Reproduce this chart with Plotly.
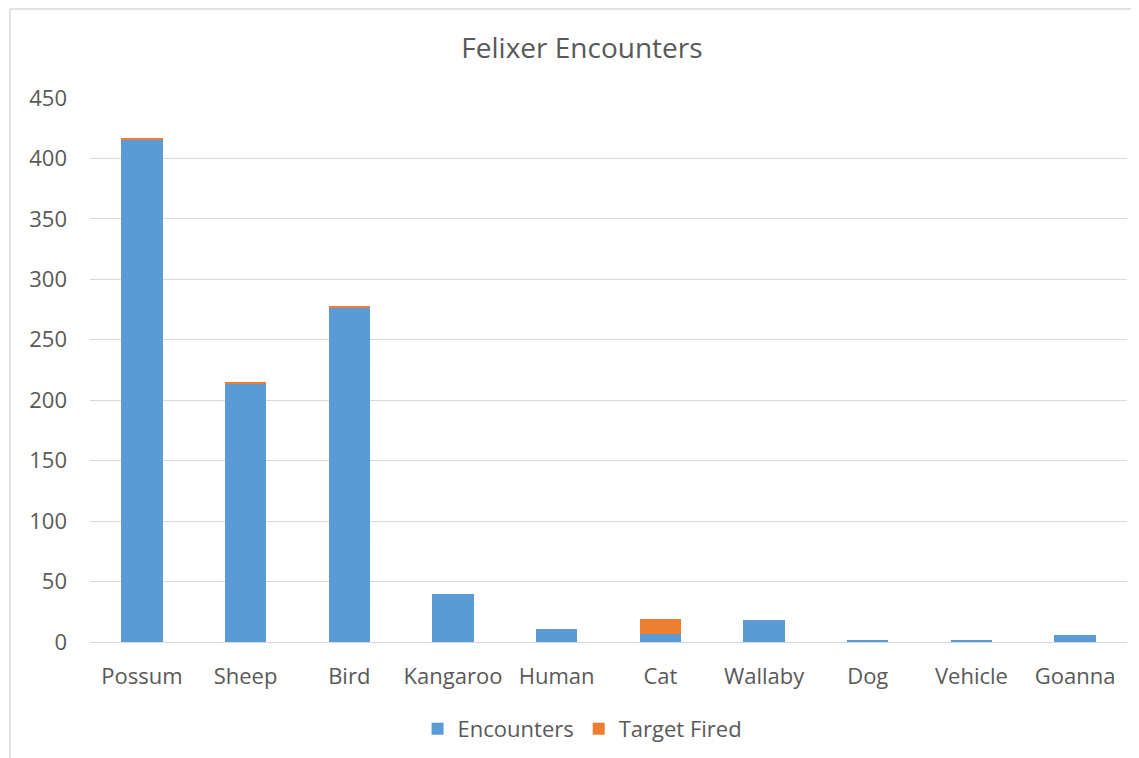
import plotly.graph_objects as go

categories = ["Possum", "Sheep", "Bird", "Kangaroo", "Human", "Cat", "Wallaby", "Dog", "Vehicle", "Goanna"]
encounters = [416, 214, 277, 40, 11, 7, 18, 2, 2, 6]
target_fired = [1, 1, 1, 0, 0, 12, 0, 0, 0, 0]
y_ticks = [0, 50, 100, 150, 200, 250, 300, 350, 400, 450]

FONT = "Open Sans, Lato, sans-serif"
TXT = "#595959"
GRID = "#d9d9d9"

fig = go.Figure()
fig.add_trace(go.Bar(x=categories, y=encounters, name="Encounters",
                     marker=dict(color="#5b9bd5", line=dict(width=0))))
fig.add_trace(go.Bar(x=categories, y=target_fired, name="Target Fired",
                     marker=dict(color="#ed7d31", line=dict(width=0))))

# page body has an 8px margin, so the figure is sized/offset accordingly
fig.update_layout(
    width=1131, height=750,
    barmode="stack", bargap=0.6,
    paper_bgcolor="white", plot_bgcolor="white",
    margin=dict(l=82, r=12, t=90, b=116, autoexpand=False),
    title=dict(text="Felixer Encounters", x=0.5075, xanchor="center", y=0.9467, yanchor="middle",
               font=dict(family=FONT, size=28, color=TXT)),
    font=dict(family=FONT, size=22, color=TXT),
    xaxis=dict(showgrid=False, showline=True, linecolor=GRID, linewidth=1, automargin=False,
               ticks="", ticklabelstandoff=15, tickfont=dict(size=22, color=TXT)),
    yaxis=dict(range=[0, 450], tickvals=y_ticks, showgrid=True, gridcolor=GRID, automargin=False,
               gridwidth=1, zeroline=False, showline=False, ticks="",
               ticklabelstandoff=22, tickfont=dict(size=22, color=TXT)),
    legend=dict(orientation="h", x=0.475, xanchor="center", y=-0.16, yanchor="middle",
                font=dict(size=22, color=TXT), itemwidth=30, traceorder="normal"),
)
# chart-area border (left and top edges visible in the reference)
bx0 = (10 - 90) / 1037
by1 = (642 - 9) / 544
fig.add_shape(type="line", xref="paper", yref="paper", x0=bx0, x1=bx0, y0=-0.3, y1=by1,
              line=dict(color=GRID, width=1.5))
fig.add_shape(type="line", xref="paper", yref="paper", x0=bx0, x1=1.05, y0=by1, y1=by1,
              line=dict(color=GRID, width=1.5))
fig.write_html("out.html")
